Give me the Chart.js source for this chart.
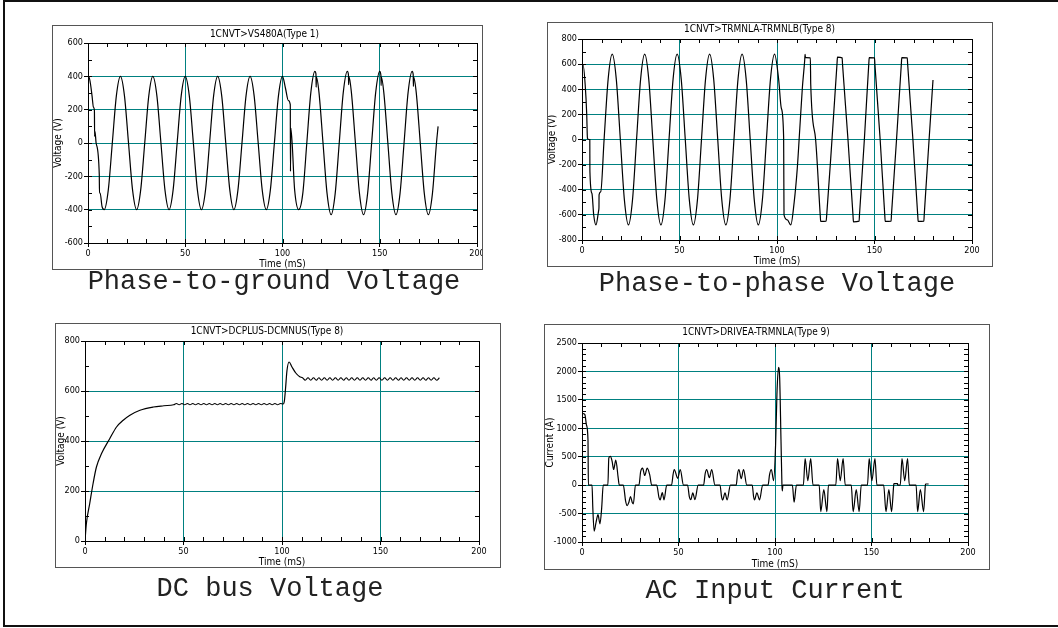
<!DOCTYPE html>
<html><head><meta charset="utf-8">
<script src="https://cdn.jsdelivr.net/npm/chart.js@4.4.1/dist/chart.umd.min.js"></script>
<style>
html,body{margin:0;padding:0;background:#fff;width:1058px;height:628px;overflow:hidden;position:relative}
#frame{position:absolute;left:3px;top:0;width:1062px;height:627px;border:2px solid #111;box-sizing:border-box}
.box{position:absolute;border:1.5px solid #555;box-sizing:border-box;pointer-events:none}
canvas{position:absolute}
.cap{position:absolute;font-family:'Liberation Mono','DejaVu Sans Mono',monospace;font-size:27px;line-height:27px;white-space:nowrap;color:#222;transform:translateX(-50%)}
</style></head><body>
<div id="frame"></div>
<canvas id="c1" width="431" height="245" style="left:52px;top:25px"></canvas>
<canvas id="c2" width="446" height="245" style="left:547px;top:22px"></canvas>
<canvas id="c3" width="446" height="245" style="left:55px;top:323px"></canvas>
<canvas id="c4" width="446" height="246" style="left:544px;top:324px"></canvas>
<div class="box" style="left:52px;top:25px;width:431px;height:245px"></div>
<div class="box" style="left:547px;top:22px;width:446px;height:245px"></div>
<div class="box" style="left:55px;top:323px;width:446px;height:245px"></div>
<div class="box" style="left:544px;top:324px;width:446px;height:246px"></div>
<div class="cap" id="cap1" style="left:274px;top:269px"></div>
<div class="cap" id="cap2" style="left:777px;top:271px"></div>
<div class="cap" id="cap3" style="left:270px;top:576px"></div>
<div class="cap" id="cap4" style="left:775px;top:578px"></div>
<script>
// ---------- text ----------
const chartTitles = ['1CNVT>VS480A(Type 1)', '1CNVT>TRMNLA-TRMNLB(Type 8)', '1CNVT>DCPLUS-DCMNUS(Type 8)', '1CNVT>DRIVEA-TRMNLA(Type 9)'];
const captions = ['Phase-to-ground Voltage', 'Phase-to-phase Voltage', 'DC bus Voltage', 'AC Input Current'];
const yTitles = ['Voltage (V)', 'Voltage (V)', 'Voltage (V)', 'Current (A)'];
const xTitle = 'Time (mS)';
const xTicks = [0, 50, 100, 150, 200];

// ---------- Phase-to-ground voltage ----------
const pgTime = [0.00,0.10,0.50,1.20,2.08,2.80,3.30,3.40,3.60,4.17,5.80,5.90,6.25,7.20,8.33,10.42,12.50,14.58,
16.67,18.75,20.83,22.92,25.00,27.08,29.17,31.25,33.33,35.42,37.50,39.58,41.67,43.75,45.83,47.92,
50.00,52.08,54.17,56.25,58.33,60.42,62.50,64.58,66.67,68.75,70.83,72.92,75.00,77.08,79.17,81.25,
83.33,85.42,87.50,89.58,91.67,93.75,95.83,97.92,100.00,101.50,103.00,104.00,104.10,104.30,106.25,108.33,
110.42,112.50,114.58,116.67,117.20,117.30,117.45,118.75,120.83,122.92,125.00,127.08,129.17,131.25,
133.33,133.90,134.00,134.15,135.42,137.50,139.58,141.67,143.75,145.83,147.92,150.00,150.60,150.70,150.85,
152.08,154.17,156.25,158.33,160.42,162.50,164.58,166.67,167.20,167.30,167.45,168.75,170.83,172.92,
175.00,177.08,179.17,180.00];
const pgVolt = [180,390,395,360,283,215,195,40,70,0,-190,-300,-300,-380,-400,-283,0,283,
400,283,0,-283,-400,-283,0,283,400,283,0,-283,-400,-283,0,283,
400,283,0,-283,-400,-283,0,283,400,283,0,-283,-400,-283,0,283,
400,283,0,-283,-400,-283,0,283,400,330,255,230,-170,90,-283,-400,
-304,0,304,430,415,335,395,304,0,-304,-430,-304,0,304,
430,410,350,400,304,0,-304,-430,-304,0,304,430,405,345,395,
304,0,-304,-430,-304,0,304,430,410,340,395,304,0,-304,
-430,-304,0,100];

// ---------- Phase-to-phase voltage ----------
const ppTime = [0.00,0.15,0.60,1.70,2.40,2.80,3.50,4.00,4.05,5.10,6.00,7.17,8.60,8.70,8.75,9.60,11.33,13.41,
15.50,17.58,19.66,21.74,23.82,25.90,27.98,30.06,32.15,34.23,36.31,38.39,40.47,42.55,44.63,46.71,
48.80,50.88,52.96,55.04,57.12,59.20,61.28,63.36,65.45,67.53,69.61,71.69,73.77,75.85,77.93,80.01,
82.10,84.18,86.26,88.34,90.42,92.50,94.58,96.66,98.75,100.83,102.20,103.40,103.50,103.60,105.30,107.07,
108.80,110.40,111.70,113.00,114.20,114.40,114.60,117.10,117.30,119.80,122.20,122.40,125.20,125.50,128.20,
130.80,131.00,133.40,133.60,136.40,139.00,139.20,142.10,142.30,144.80,147.10,147.30,150.00,150.20,152.90,
155.30,155.50,158.50,158.70,161.30,163.80,164.00,166.80,167.00,169.70,172.20,172.40,175.30,175.50,178.00,180.00];
const ppVolt = [260,580,590,420,210,10,0,0,-250,-430,-600,-680,-560,-540,-440,-416,0,481,
680,481,0,-481,-680,-481,0,481,680,481,0,-481,-680,-481,0,481,
680,481,0,-481,-680,-481,0,481,680,481,0,-481,-680,-481,0,481,
680,481,0,-481,-680,-481,0,481,680,481,250,20,-300,-600,-640,-680,
-500,-230,90,410,630,678,652,650,440,0,-610,-652,-650,-600,0,
610,655,650,600,0,-610,-655,-650,-600,0,610,652,650,600,0,
-610,-652,-650,-600,0,610,652,650,600,0,-610,-652,-650,-600,0,474];

// ---------- DC bus voltage ----------
const dcTime = [0,0.7,2.4,4.1,5.8,8.4,12.6,16.0,19.4,22.8,27.9,34.7,40.0,
45.0,46.4,47.8,49.2,50.6,52.0,53.3,54.7,56.1,57.5,58.9,60.3,61.7,63.1,64.5,65.9,67.2,68.6,70.0,71.4,
72.8,74.2,75.6,77.0,78.4,79.8,81.1,82.5,83.9,85.3,86.7,88.1,89.5,90.9,92.3,93.7,95.0,96.4,97.8,99.2,100.6,
101.2,101.8,102.5,103.6,105.0,107.0,109.0,
110.4,111.8,113.2,114.6,116.0,117.4,118.7,120.1,121.5,122.9,124.3,125.7,127.1,128.5,129.9,131.3,132.6,
134.0,135.4,136.8,138.2,139.6,141.0,142.4,143.8,145.2,146.5,147.9,149.3,150.7,152.1,153.5,154.9,156.3,
157.7,159.1,160.4,161.8,163.2,164.6,166.0,167.4,168.8,170.2,171.6,173.0,174.3,175.7,177.1,178.5,179.9];
const dcVolt = [0,70,150,230,296,350,410,456,483,503,523,536,541,
545,550,545,550,545,550,545,550,545,550,545,550,545,550,545,550,545,550,545,550,
545,550,545,550,545,550,545,550,545,550,545,550,545,550,545,550,545,550,545,550,548,
560,610,680,716,697,672,657,
653,643,653,643,653,643,653,643,653,643,653,643,653,643,653,643,653,
643,653,643,653,643,653,643,653,643,653,643,653,643,653,643,653,643,
653,643,653,643,653,643,653,643,653,643,653,643,653,643,653,643,653];

// ---------- AC input current ----------
const acTime = [0.00,0.05,0.40,1.50,2.30,3.10,3.30,5.20,5.60,6.30,7.30,8.30,9.30,10.20,11.00,
13.40,13.90,14.70,15.60,16.40,17.50,18.75,19.30,
21.40,22.60,23.40,24.30,25.10,26.10,26.60,27.70,
29.50,30.40,31.40,32.50,33.80,35.10,36.10,
38.70,39.90,40.50,41.60,42.50,43.90,
46.40,47.20,47.80,49.60,50.90,52.60,
54.70,55.60,56.40,57.40,58.50,60.20,
63.00,63.80,64.60,66.00,67.20,68.90,
71.50,72.30,72.90,74.10,75.20,76.90,
79.90,80.60,81.30,82.50,83.70,85.40,
88.20,88.90,89.40,90.60,92.00,93.60,
96.40,97.20,98.10,99.30,100.30,101.00,101.80,102.40,103.10,103.60,103.80,104.10,
109.00,109.90,111.10,
114.70,115.60,117.00,118.50,119.70,
122.90,123.70,125.30,126.90,127.70,
131.50,132.40,133.80,135.30,136.40,
139.50,140.50,142.10,143.60,144.70,
147.90,148.80,150.20,151.80,152.80,
156.30,157.50,159.00,160.40,161.50,161.60,163.50,163.60,
164.90,165.80,167.20,168.70,169.60,
173.10,173.90,175.30,177.00,177.90,178.00,179.60];
const acCurr = [0,1150,1260,1240,1060,800,0,0,-400,-810,-650,-520,-680,-400,0,
0,480,505,420,275,440,128,0,
0,-280,-360,-300,-200,-310,-330,0,
0,240,300,170,300,180,0,
0,-220,-260,-130,-260,0,
0,190,275,120,275,0,
0,-200,-255,-135,-255,0,
0,200,275,130,275,0,
0,-200,-260,-135,-260,0,
0,200,275,115,275,0,
0,-200,-260,-135,-260,0,
0,190,275,80,700,1600,2070,1900,800,0,-100,0,
0,-300,0,
0,465,80,465,0,
0,-465,-80,-465,0,
0,465,80,465,0,
0,-465,-80,-465,0,
0,465,80,465,0,
0,-465,-80,-465,0,25,25,0,
0,465,80,465,0,
0,-465,-80,-465,0,20,20];

// ---------- drawing ----------
const NARROW = "'Liberation Sans Narrow','DejaVu Sans Condensed','Arial Narrow',sans-serif";
const TEAL = '#008080';

const frameTicks = {
  id: 'frameTicks',
  afterDraw(chart, args, opts) {
    const {ctx, chartArea: a, scales: {x, y}} = chart;
    ctx.save();
    ctx.strokeStyle = '#000';
    ctx.lineWidth = 1;
    ctx.beginPath();
    for (let v = x.min; v <= x.max + 1e-9; v += opts.xMinor) {
      const p = Math.round(x.getPixelForValue(v)) + 0.5;
      ctx.moveTo(p, a.bottom); ctx.lineTo(p, a.bottom - 4);
      ctx.moveTo(p, a.top); ctx.lineTo(p, a.top + 4);
    }
    for (let v = y.min; v <= y.max + 1e-9; v += opts.yMinor) {
      const p = Math.round(y.getPixelForValue(v)) + 0.5;
      ctx.moveTo(a.left, p); ctx.lineTo(a.left + 4, p);
      ctx.moveTo(a.right, p); ctx.lineTo(a.right - 4, p);
    }
    ctx.stroke();
    ctx.strokeRect(Math.round(a.left) + 0.5, Math.round(a.top) + 0.5, Math.round(a.width), Math.round(a.height));
    ctx.restore();
  }
};

function makePanel(p) {
  const data = p.t.map((t, i) => ({x: t, y: p.v[i]}));
  new Chart(document.getElementById(p.id), {
    type: 'line',
    data: {datasets: [{data, borderColor: '#000', borderWidth: 1.2, pointRadius: 0, fill: false, cubicInterpolationMode: 'monotone'}]},
    plugins: [frameTicks],
    options: {
      responsive: false, animation: false, devicePixelRatio: 1,
      layout: {padding: {left: 0, right: p.pad.right, top: 0, bottom: 0}},
      plugins: {
        legend: {display: false}, tooltip: {enabled: false},
        title: {display: true, text: p.title, color: '#000', font: {family: NARROW, size: 10, weight: 'normal', lineHeight: 1.2}, padding: {top: p.titlePad[0], bottom: p.titlePad[1]}},
        frameTicks: {xMinor: 10, yMinor: p.yMinor}
      },
      scales: {
        x: {
          type: 'linear', min: xTicks[0], max: xTicks[xTicks.length - 1],
          afterBuildTicks: s => { s.ticks = xTicks.map(v => ({value: v})); },
          ticks: {color: '#000', font: {family: NARROW, size: 9}, padding: 1, maxRotation: 0, autoSkip: false, callback: v => String(v)},
          grid: {color: TEAL, lineWidth: 1, drawTicks: true, tickLength: 4, tickColor: '#000'},
          border: {display: true, color: '#000', width: 1},
          title: {display: true, text: xTitle, color: '#000', font: {family: NARROW, size: 10, weight: 'normal', lineHeight: 1.2}, padding: {top: 0, bottom: p.xTitlePad}},
          afterFit: s => { s.height = p.pad.bottom; s.paddingLeft = 0; s.paddingRight = 0; }
        },
        y: {
          type: 'linear', min: p.ymin, max: p.ymax,
          ticks: {stepSize: p.ystep, color: '#000', font: {family: NARROW, size: 9}, padding: 1, autoSkip: false, callback: v => String(v)},
          grid: {color: TEAL, lineWidth: 1, drawTicks: true, tickLength: 4, tickColor: '#000'},
          border: {display: true, color: '#000', width: 1},
          title: {display: true, text: p.yTitle, color: '#000', font: {family: NARROW, size: 10, weight: 'normal', lineHeight: 1.2}, padding: {top: p.yTitlePad, bottom: 0}},
          afterFit: s => { s.width = p.pad.left; s.paddingTop = 0; s.paddingBottom = 0; }
        }
      }
    }
  });
}

const panels = [
  {id: 'c1', pad: {left: 36, right: 6, bottom: 27}, titlePad: [3, 3], xTitlePad: 0, yTitlePad: 0, ymin: -600, ymax: 600, ystep: 200, yMinor: 100, t: pgTime, v: pgVolt},
  {id: 'c2', pad: {left: 35, right: 21, bottom: 27}, titlePad: [1, 4], xTitlePad: 0, yTitlePad: -1, ymin: -800, ymax: 800, ystep: 200, yMinor: 100, t: ppTime, v: ppVolt},
  {id: 'c3', pad: {left: 30, right: 22, bottom: 27}, titlePad: [2, 4], xTitlePad: 0, yTitlePad: 0, ymin: 0, ymax: 800, ystep: 200, yMinor: 100, t: dcTime, v: dcVolt},
  {id: 'c4', pad: {left: 38, right: 22, bottom: 28}, titlePad: [2, 5], xTitlePad: 0, yTitlePad: 0, ymin: -1000, ymax: 2500, ystep: 500, yMinor: 100, t: acTime, v: acCurr}
];
panels.forEach((p, i) => {
  p.title = chartTitles[i];
  p.yTitle = yTitles[i];
  makePanel(p);
  document.getElementById('cap' + (i + 1)).textContent = captions[i];
});
</script>
</body></html>
